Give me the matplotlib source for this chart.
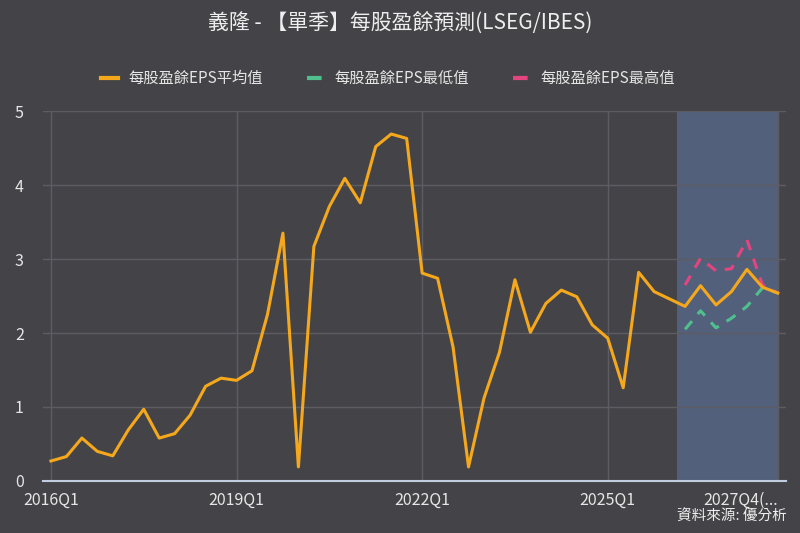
import matplotlib
matplotlib.use("Agg")
import matplotlib.pyplot as plt
from matplotlib.transforms import ScaledTranslation

plt.rcParams['font.family'] = ['Noto Sans CJK TC', 'DejaVu Sans']

# quarterly EPS, 2016Q1 .. 2027Q4
quarters = [f"{y}Q{q}" for y in range(2016, 2028) for q in range(1, 5)]
eps_mean = [0.27, 0.33, 0.58, 0.40, 0.34, 0.69, 0.97, 0.58, 0.64, 0.89,
            1.28, 1.39, 1.36, 1.49, 2.25, 3.35, 0.19, 3.17, 3.71, 4.09,
            3.76, 4.52, 4.69, 4.63, 2.81, 2.74, 1.81, 0.19, 1.12, 1.74,
            2.72, 2.01, 2.40, 2.58, 2.49, 2.11, 1.93, 1.26, 2.82, 2.56,
            2.46, 2.36, 2.64, 2.38, 2.56, 2.86, 2.62, 2.54]
fc_idx = list(range(41, 48))
eps_low = [2.05, 2.30, 2.07, 2.20, 2.36, 2.61, 2.54]
eps_high = [2.65, 3.01, 2.84, 2.87, 3.26, 2.65, 2.54]
tick_idx = [0, 12, 24, 36, 47]
tick_labels = ['2016Q1', '2019Q1', '2022Q1', '2025Q1', '2027Q4(...']

bg = '#444448'
fig = plt.figure(figsize=(8, 5.33), dpi=100, facecolor=bg)
ax = fig.add_axes([0.054, 0.0976, 0.928, 0.694], facecolor=bg)

x = list(range(len(eps_mean)))
ax.axvspan(40.5, 47, color='#53607c', zorder=0, lw=0)
ax.plot(x, eps_mean, color='#f5a81c', lw=2.2, label='每股盈餘EPS平均值', zorder=3)
ax.plot(fc_idx, eps_low, color='#4fc08d', lw=2.2, ls=(0, (3.5, 3)), label='每股盈餘EPS最低值', zorder=2)
ax.plot(fc_idx, eps_high, color='#e5457f', lw=2.2, ls=(0, (3.5, 3)), label='每股盈餘EPS最高值', zorder=2)

ax.set_xlim(-0.5, 47.5)
ax.set_ylim(0, 5)
ax.set_yticks([0, 1, 2, 3, 4, 5])
ax.set_xticks(tick_idx)
ax.set_xticklabels(tick_labels)
last = ax.get_xticklabels()[-1]
last.set_ha('right')
last.set_transform(last.get_transform() + ScaledTranslation(-0.07, 0, fig.dpi_scale_trans))
ax.grid(True, color='#5c5c62', lw=1)
ax.set_axisbelow(True)
for s in ['top', 'right', 'left']:
    ax.spines[s].set_visible(False)
ax.spines['bottom'].set_color('#c0cde0')
ax.spines['bottom'].set_linewidth(1.5)
ax.tick_params(length=0, colors='#e6e6e6', labelsize=11.5)
ax.tick_params(axis='y', pad=14)
ax.tick_params(axis='x', pad=8)

fig.text(0.5, 0.958, '義隆 - 【單季】每股盈餘預測(LSEG/IBES)', ha='center', va='center',
         color='#eeeeee', fontsize=15)
leg = fig.legend(loc='center', bbox_to_anchor=(0.485, 0.853), ncol=3, frameon=False,
                 fontsize=11, labelcolor='#e6e6e6', handlelength=1.1, handletextpad=0.7,
                 columnspacing=2.9)
for h in leg.get_lines():
    h.set_linewidth(3)
fig.text(0.983, 0.018, '資料來源: 優分析', ha='right', va='bottom', color='#eeeeee', fontsize=10.5)

fig.savefig('out.png', dpi=100, facecolor=bg)
